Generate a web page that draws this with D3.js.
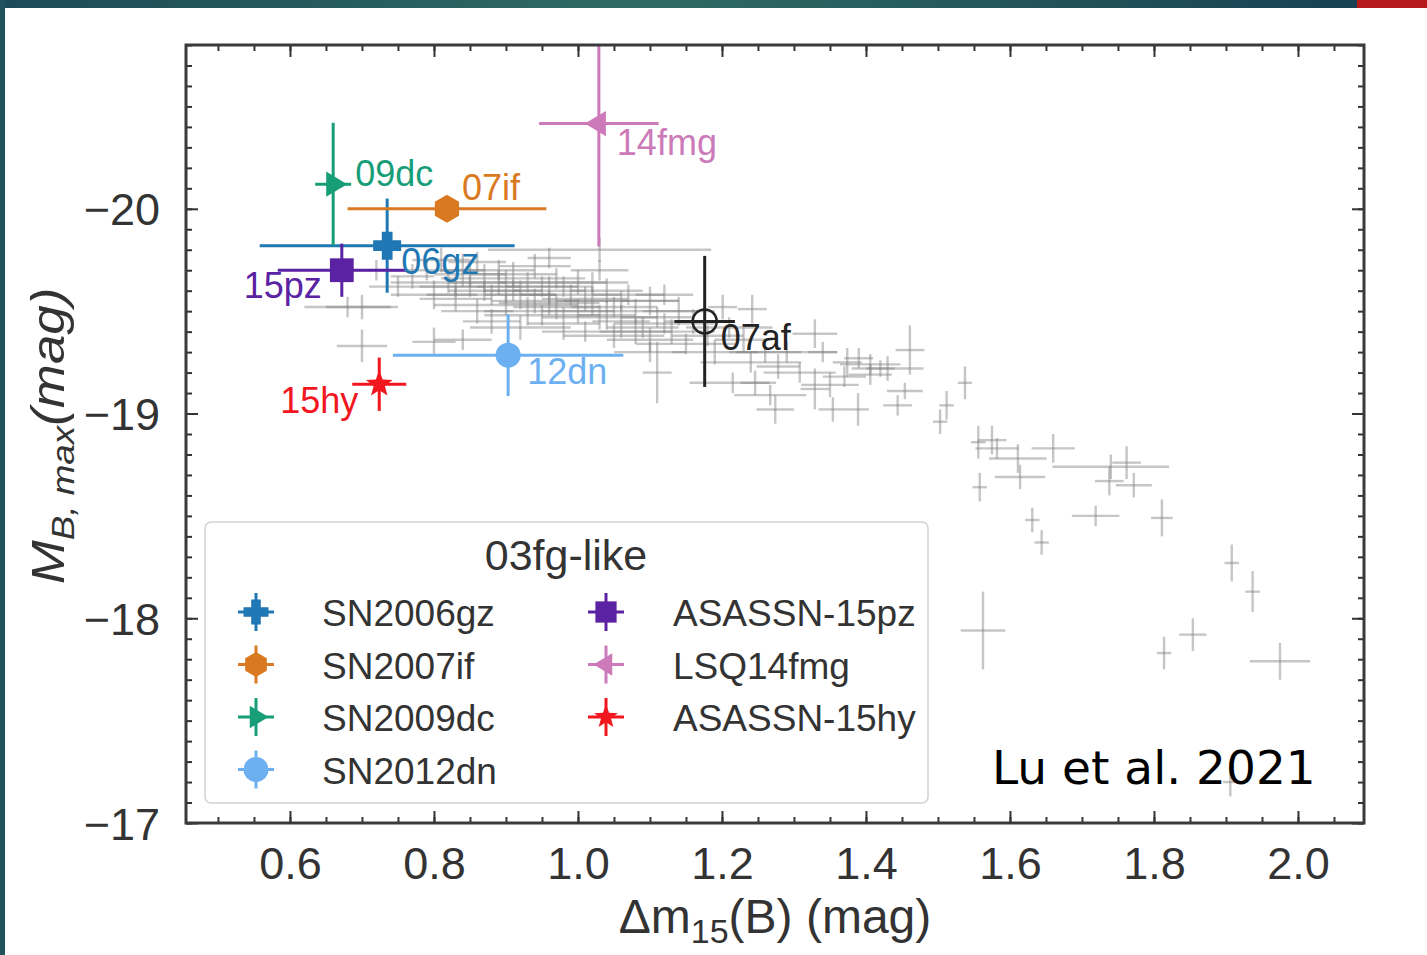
<!DOCTYPE html>
<html><head><meta charset="utf-8">
<script src="https://cdn.jsdelivr.net/npm/d3@7"></script>
<style>html,body{margin:0;padding:0;background:#fff;} svg{display:block;}</style>
</head><body>
<svg id="chart" width="1427" height="955"></svg>
<script>
// ---------------- DATA ----------------
const xTicks = [0.6, 0.8, 1.0, 1.2, 1.4, 1.6, 1.8, 2.0];
const yTicks = [-20, -19, -18, -17];

// 03fg-like objects
const fgNames   = ["SN2006gz", "SN2007if", "SN2009dc", "SN2012dn", "ASASSN-15pz", "LSQ14fmg", "ASASSN-15hy"];
const fgShort   = ["06gz", "07if", "09dc", "12dn", "15pz", "14fmg", "15hy"];
const fgDm15    = [0.735, 0.818, 0.660, 0.903, 0.672, 1.029, 0.724];
const fgMB      = [-19.82, -20.00, -20.12, -19.285, -19.70, -20.416, -19.143];
const fgDm15Err = [0.177, 0.138, 0.025, 0.160, 0.089, 0.083, 0.0375];
const fgMBErr   = [0.23, 0.05, 0.30, 0.20, 0.13, 0.60, 0.13];

// SN 2007af (reference normal SN Ia)
const afShort   = ["07af"];
const afDm15    = [1.176];
const afMB      = [-19.45];
const afDm15Err = [0.042];
const afMBErr   = [0.32];

// Normal SNe Ia sample (gray)
const normalDm15 = [1.556,1.575,1.582,1.611,1.614,1.660,1.740,1.762,1.738,1.772,1.558,1.631,1.644,1.719,1.811,1.908,1.937,1.5625,1.854,1.814,1.975,1.906,1.454,1.512,1.503,1.5375,1.329,1.340,1.374,1.406,1.461,1.329,1.444,1.274,1.354,1.389,1.246,1.278,1.308,1.350,1.406,1.420,1.267,1.201,1.242,1.215,1.290,1.110,1.370,1.390,1.430,1.210,1.230,1.260,1.240,0.68,0.70,0.70,0.75,0.77,0.79,0.80,0.81,0.82,0.83,0.84,0.85,0.86,0.86,0.87,0.88,0.88,0.89,0.90,0.90,0.91,0.92,0.92,0.93,0.94,0.94,0.95,0.96,0.97,0.97,0.98,0.99,1.00,1.00,1.01,1.02,1.03,1.03,1.04,1.05,1.05,1.06,1.07,1.08,1.09,1.10,1.10,1.11,1.12,1.13,1.14,1.15,1.16,1.18,1.19,1.03,0.80,0.84,1.10,0.72,0.96,0.87,0.89,0.91,0.93,0.95,0.96,0.98,1.01,1.02,1.04,1.06,1.08,1.12,0.85,0.83];
const normalMB = [-18.86,-18.87,-18.83,-18.78,-18.69,-18.83,-18.74,-18.76,-18.67,-18.65,-18.64,-18.48,-18.37,-18.50,-18.49,-18.27,-18.13,-17.94,-17.92,-17.83,-17.79,-17.20,-19.11,-19.04,-18.96,-19.15,-19.39,-19.30,-19.25,-19.24,-19.31,-19.12,-19.04,-19.02,-19.02,-19.02,-19.15,-19.23,-19.20,-19.14,-19.19,-19.22,-19.09,-19.52,-19.51,-19.15,-19.30,-19.20,-19.18,-19.27,-19.22,-19.42,-19.36,-19.30,-19.25,-19.52,-19.52,-19.33,-19.62,-19.67,-19.70,-19.58,-19.75,-19.64,-19.56,-19.70,-19.62,-19.50,-19.74,-19.66,-19.58,-19.45,-19.70,-19.62,-19.53,-19.68,-19.58,-19.42,-19.64,-19.55,-19.72,-19.48,-19.60,-19.66,-19.52,-19.44,-19.58,-19.50,-19.64,-19.40,-19.55,-19.47,-19.70,-19.60,-19.52,-19.38,-19.45,-19.58,-19.50,-19.42,-19.55,-19.36,-19.47,-19.58,-19.40,-19.50,-19.34,-19.45,-19.38,-19.30,-19.80,-19.35,-19.36,-19.30,-19.70,-19.76,-19.60,-19.64,-19.60,-19.50,-19.62,-19.54,-19.62,-19.56,-19.64,-19.48,-19.55,-19.40,-19.44,-19.68,-19.62];
const normalDm15Err = [0.010,0.020,0.030,0.040,0.035,0.030,0.081,0.020,0.020,0.025,0.010,0.010,0.010,0.033,0.015,0.010,0.010,0.031,0.019,0.010,0.042,0.010,0.025,0.010,0.010,0.010,0.031,0.020,0.020,0.042,0.020,0.020,0.020,0.026,0.020,0.015,0.020,0.030,0.050,0.040,0.030,0.020,0.050,0.020,0.020,0.060,0.070,0.020,0.030,0.020,0.050,0.060,0.040,0.050,0.070,0.06,0.05,0.035,0.04,0.03,0.05,0.06,0.04,0.08,0.05,0.03,0.07,0.05,0.04,0.06,0.09,0.04,0.05,0.04,0.10,0.06,0.05,0.07,0.04,0.06,0.05,0.08,0.05,0.04,0.06,0.05,0.07,0.05,0.04,0.06,0.05,0.08,0.04,0.05,0.06,0.07,0.04,0.05,0.09,0.05,0.04,0.06,0.05,0.04,0.06,0.05,0.07,0.04,0.05,0.06,0.155,0.03,0.04,0.05,0.04,0.03,0.05,0.07,0.04,0.06,0.05,0.07,0.04,0.06,0.05,0.04,0.08,0.05,0.07,0.05,0.04];
const normalMBErr = [0.08,0.07,0.05,0.07,0.06,0.07,0.06,0.08,0.07,0.06,0.07,0.06,0.06,0.05,0.09,0.09,0.10,0.19,0.08,0.08,0.09,0.07,0.04,0.07,0.06,0.08,0.07,0.05,0.07,0.05,0.12,0.10,0.05,0.07,0.06,0.08,0.06,0.06,0.05,0.06,0.05,0.04,0.05,0.06,0.07,0.05,0.05,0.15,0.05,0.05,0.06,0.05,0.06,0.05,0.05,0.05,0.06,0.08,0.05,0.06,0.05,0.07,0.06,0.05,0.06,0.08,0.05,0.06,0.05,0.07,0.05,0.06,0.05,0.08,0.05,0.06,0.07,0.06,0.05,0.06,0.06,0.05,0.07,0.05,0.06,0.08,0.05,0.06,0.06,0.05,0.07,0.06,0.05,0.06,0.05,0.06,0.08,0.05,0.06,0.05,0.07,0.06,0.05,0.05,0.06,0.07,0.05,0.06,0.05,0.06,0.06,0.07,0.05,0.05,0.05,0.05,0.05,0.06,0.05,0.07,0.05,0.06,0.05,0.06,0.05,0.07,0.05,0.06,0.05,0.06,0.05];

// ---------------- STYLE ----------------
const fgColors  = ["#1f78b4", "#d97a22", "#179e78", "#6cb0f2", "#5b22a3", "#cc7ab9", "#f2171f"];
const fgMarkers = ["plus", "hexagon", "triRight", "circle", "square", "triLeft", "star"];
const labelStyle = [ // dx, dy, anchor
  [14, 28, "start"], [15, -9, "start"], [22, 2, "start"], [19, 29, "start"],
  [-20, 28, "end"], [18, 31, "start"], [-21, 29, "end"]
];
const afLabelStyle = [16, 29, "start"];

const W = 1427, H = 955;
const L = 186, R = 1364, T = 45, B = 823;
const FONT = "'Liberation Sans', Arial, Helvetica, sans-serif";

const svg = d3.select("#chart");
const defs = svg.append("defs");

// Slide decorations
const grad = defs.append("linearGradient").attr("id", "topbar").attr("x1", 0).attr("x2", 1).attr("y1", 0).attr("y2", 0);
[[0, "#1d4a57"], [0.45, "#2f6b64"], [1, "#163d50"]].forEach(([o, c]) => grad.append("stop").attr("offset", o).attr("stop-color", c));
svg.append("rect").attr("x", 0).attr("y", 0).attr("width", W).attr("height", 8).attr("fill", "url(#topbar)");
svg.append("rect").attr("x", 1357).attr("y", 0).attr("width", W - 1357).attr("height", 8).attr("fill", "#b5191b");
svg.append("rect").attr("x", 0).attr("y", 0).attr("width", 5).attr("height", H).attr("fill", "#1f525d");

defs.append("clipPath").attr("id", "plotclip").append("rect")
  .attr("x", L).attr("y", T).attr("width", R - L).attr("height", B - T);

const X = d3.scaleLinear().domain([0.4556, 2.0917]).range([L, R]);
const Y = d3.scaleLinear().domain([-20.8, -17]).range([T, B]);

// marker paths
function markerPath(type, r) {
  const line = d3.line();
  let pts;
  if (type === "plus") {
    const a = r / 2.6;
    pts = [[-a,-r],[a,-r],[a,-a],[r,-a],[r,a],[a,a],[a,r],[-a,r],[-a,a],[-r,a],[-r,-a],[-a,-a]];
  } else if (type === "hexagon") {
    pts = d3.range(6).map(k => { const t = (-90 + 60 * k) * Math.PI / 180; return [r * Math.cos(t), r * Math.sin(t)]; });
  } else if (type === "triRight") {
    pts = [[r, 0], [-r / 2, -r * 0.9], [-r / 2, r * 0.9]];
  } else if (type === "triLeft") {
    pts = [[-r, 0], [r / 2, -r * 0.9], [r / 2, r * 0.9]];
  } else if (type === "square") {
    const s = r * 0.85;
    pts = [[-s,-s],[s,-s],[s,s],[-s,s]];
  } else if (type === "star") {
    pts = d3.range(10).map(k => { const rr = k % 2 ? r * 0.42 : r; const t = (-90 + 36 * k) * Math.PI / 180; return [rr * Math.cos(t), rr * Math.sin(t)]; });
  } else { // circle
    return d3.symbol(d3.symbolCircle, Math.PI * r * r)();
  }
  return line(pts) + "Z";
}

// ---------------- AXES ----------------
const tickColor = "#333";
const xMinor = d3.range(10, 42).map(k => k * 0.05);
const yMinor = d3.range(-208, -169).map(k => k / 10);

function styleAxis(g) {
  g.select(".domain").remove();
  g.selectAll(".tick line").attr("stroke", tickColor).attr("stroke-width", 2);
}
const axes = svg.append("g");
axes.append("g").attr("transform", `translate(0,${B})`)
  .call(d3.axisBottom(X).tickValues(xMinor).tickSize(-6).tickFormat("")).call(styleAxis);
axes.append("g").attr("transform", `translate(0,${B})`)
  .call(d3.axisBottom(X).tickValues(xTicks).tickSize(-12).tickPadding(24).tickFormat(d3.format(".1f")))
  .call(styleAxis)
  .call(g => g.selectAll("text").attr("font-family", FONT).attr("font-size", 45).attr("fill", "#333"));
axes.append("g").attr("transform", `translate(0,${T})`)
  .call(d3.axisTop(X).tickValues(xMinor).tickSize(-6).tickFormat("")).call(styleAxis);
axes.append("g").attr("transform", `translate(0,${T})`)
  .call(d3.axisTop(X).tickValues(xTicks).tickSize(-12).tickFormat("")).call(styleAxis);
axes.append("g").attr("transform", `translate(${L},0)`)
  .call(d3.axisLeft(Y).tickValues(yMinor).tickSize(-6).tickFormat("")).call(styleAxis);
axes.append("g").attr("transform", `translate(${L},0)`)
  .call(d3.axisLeft(Y).tickValues(yTicks).tickSize(-12).tickPadding(26).tickFormat(d3.format("d")))
  .call(styleAxis)
  .call(g => g.selectAll("text").attr("font-family", FONT).attr("font-size", 45).attr("fill", "#333").attr("dy", "0.36em"));
axes.append("g").attr("transform", `translate(${R},0)`)
  .call(d3.axisRight(Y).tickValues(yMinor).tickSize(-6).tickFormat("")).call(styleAxis);
axes.append("g").attr("transform", `translate(${R},0)`)
  .call(d3.axisRight(Y).tickValues(yTicks).tickSize(-12).tickFormat("")).call(styleAxis);

// ---------------- DATA LAYER ----------------
const plot = svg.append("g").attr("clip-path", "url(#plotclip)");

const gray = normalDm15.map((d, i) => ({ x: d, y: normalMB[i], xe: normalDm15Err[i], ye: normalMBErr[i] }));
const gG = plot.append("g").attr("stroke", "#808080").attr("stroke-opacity", 0.45).attr("stroke-width", 2.4);
gG.selectAll("line.h").data(gray).join("line").attr("class", "h")
  .attr("x1", d => X(d.x - d.xe)).attr("x2", d => X(d.x + d.xe)).attr("y1", d => Y(d.y)).attr("y2", d => Y(d.y));
gG.selectAll("line.v").data(gray).join("line").attr("class", "v")
  .attr("x1", d => X(d.x)).attr("x2", d => X(d.x)).attr("y1", d => Y(d.y - d.ye)).attr("y2", d => Y(d.y + d.ye));

// SN 2007af
const af = afDm15.map((d, i) => ({ x: d, y: afMB[i], xe: afDm15Err[i], ye: afMBErr[i], name: afShort[i] }));
const afG = plot.append("g");
af.forEach(d => {
  afG.append("line").attr("x1", X(d.x - d.xe)).attr("x2", X(d.x + d.xe)).attr("y1", Y(d.y)).attr("y2", Y(d.y)).attr("stroke", "#222").attr("stroke-width", 3);
  afG.append("line").attr("x1", X(d.x)).attr("x2", X(d.x)).attr("y1", Y(d.y - d.ye)).attr("y2", Y(d.y + d.ye)).attr("stroke", "#222").attr("stroke-width", 3);
  afG.append("circle").attr("cx", X(d.x)).attr("cy", Y(d.y)).attr("r", 12).attr("fill", "none").attr("stroke", "#222").attr("stroke-width", 2.5);
});

// 03fg-like
const fg = fgNames.map((n, i) => ({ name: n, short: fgShort[i], x: fgDm15[i], y: fgMB[i], xe: fgDm15Err[i], ye: fgMBErr[i], c: fgColors[i], m: fgMarkers[i], ls: labelStyle[i] }));
const fgG = plot.append("g");
fg.forEach(d => {
  const g = fgG.append("g");
  g.append("line").attr("x1", X(d.x - d.xe)).attr("x2", X(d.x + d.xe)).attr("y1", Y(d.y)).attr("y2", Y(d.y)).attr("stroke", d.c).attr("stroke-width", 3);
  g.append("line").attr("x1", X(d.x)).attr("x2", X(d.x)).attr("y1", Y(d.y - d.ye)).attr("y2", Y(d.y + d.ye)).attr("stroke", d.c).attr("stroke-width", 3);
  g.append("path").attr("d", markerPath(d.m, d.m === "circle" ? 12.5 : 14)).attr("transform", `translate(${X(d.x)},${Y(d.y)})`).attr("fill", d.c);
});

// annotations
const ann = svg.append("g").attr("font-family", FONT).attr("font-size", 36);
fg.forEach(d => {
  ann.append("text").attr("x", X(d.x) + d.ls[0]).attr("y", Y(d.y) + d.ls[1]).attr("text-anchor", d.ls[2]).attr("fill", d.c).text(d.short);
});
af.forEach(d => {
  ann.append("text").attr("x", X(d.x) + afLabelStyle[0]).attr("y", Y(d.y) + afLabelStyle[1]).attr("text-anchor", afLabelStyle[2]).attr("fill", "#222").text(d.name);
});

// frame
svg.append("rect").attr("x", L).attr("y", T).attr("width", R - L).attr("height", B - T)
  .attr("fill", "none").attr("stroke", "#3a3a3a").attr("stroke-width", 3);

// ---------------- LEGEND ----------------
const leg = svg.append("g").attr("font-family", FONT);
leg.append("rect").attr("x", 205).attr("y", 522).attr("width", 723).attr("height", 281).attr("rx", 6)
  .attr("fill", "#fff").attr("fill-opacity", 0.85).attr("stroke", "#d2d2d2").attr("stroke-width", 1.5);
leg.append("text").attr("x", 566).attr("y", 570).attr("text-anchor", "middle").attr("font-size", 43).attr("fill", "#333").text("03fg-like");
fg.forEach((d, i) => {
  const col = i < 4 ? 0 : 1, row = i < 4 ? i : i - 4;
  const cx = col ? 606 : 256, cy = 612 + row * 52.5, tx = col ? 673 : 322;
  leg.append("line").attr("x1", cx - 18).attr("x2", cx + 18).attr("y1", cy).attr("y2", cy).attr("stroke", d.c).attr("stroke-width", 3);
  leg.append("line").attr("x1", cx).attr("x2", cx).attr("y1", cy - 19).attr("y2", cy + 19).attr("stroke", d.c).attr("stroke-width", 3);
  leg.append("path").attr("d", markerPath(d.m, 12.5)).attr("transform", `translate(${cx},${cy})`).attr("fill", d.c);
  leg.append("text").attr("x", tx).attr("y", cy + 14).attr("font-size", 37).attr("fill", "#333").text(d.name);
});

// ---------------- AXIS LABELS ----------------
const xl = svg.append("text").attr("x", 775).attr("y", 933).attr("text-anchor", "middle")
  .attr("font-family", FONT).attr("font-size", 48).attr("fill", "#333");
xl.append("tspan").text("Δm");
xl.append("tspan").attr("font-size", 34).attr("dy", 10).text("15");
xl.append("tspan").attr("dy", -10).text("(B) (mag)");

const yl = svg.append("text").attr("transform", "translate(64,436) rotate(-90) scale(1.15,1)")
  .attr("text-anchor", "middle").attr("font-family", FONT).attr("font-size", 46).attr("fill", "#333").attr("font-style", "italic");
yl.append("tspan").text("M");
yl.append("tspan").attr("font-size", 32).attr("dy", 10).text("B, max");
yl.append("tspan").attr("dy", -10).text("(mag)");

// credit
svg.append("text").attr("x", 992).attr("y", 784).attr("font-family", "'DejaVu Sans', Verdana, sans-serif")
  .attr("font-size", 47).attr("fill", "#000").text("Lu et al. 2021");
</script>
</body></html>
